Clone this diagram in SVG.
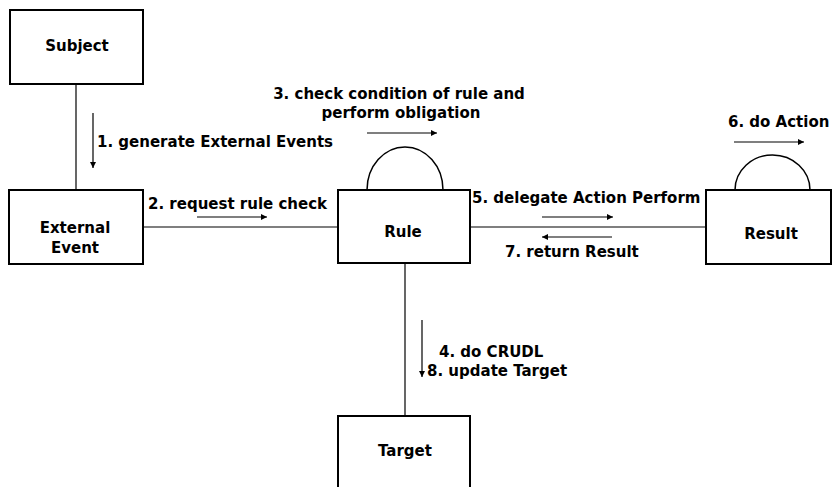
<svg xmlns="http://www.w3.org/2000/svg" width="832" height="487" viewBox="0 0 832 487">
  <style>
    .box { fill: #ffffff; stroke: #000000; stroke-width: 2; }
    .link { fill: none; stroke: #000000; stroke-width: 1.2; }
    .loop { fill: none; stroke: #000000; stroke-width: 1.5; }
    .msg { fill: none; stroke: #000000; stroke-width: 1.2; }
    text { font-family: "DejaVu Sans", Verdana, sans-serif; font-weight: bold; font-size: 15px; fill: #000000; }
    .mid { text-anchor: middle; }
  </style>
  <defs>
    <marker id="head" viewBox="0 0 10 10" refX="10" refY="5" markerWidth="6" markerHeight="6" markerUnits="userSpaceOnUse" orient="auto">
      <path d="M0 0 L10 5 L0 10 Z" fill="#000000"/>
    </marker>
  </defs>
  <rect width="832" height="487" fill="#ffffff"/>

  <!-- links between objects -->
  <g id="connectors">
    <line class="link" x1="76" y1="84" x2="76" y2="190"/>
    <line class="link" x1="143" y1="227" x2="338" y2="227"/>
    <line class="link" x1="470" y1="227" x2="706" y2="227"/>
    <line class="link" x1="405" y1="263" x2="405" y2="416"/>
    <!-- self loops -->
    <path class="loop" d="M367 190 A38 43 0 0 1 443 190"/>
    <path class="loop" d="M735 190 A37.5 35 0 0 1 810 190"/>

    <!-- message arrows -->
    <line class="msg" x1="93" y1="113" x2="93" y2="168" marker-end="url(#head)"/>
    <text x="97" y="147">1. generate External Events</text>

    <line class="msg" x1="197" y1="217" x2="267" y2="217" marker-end="url(#head)"/>
    <text x="148" y="209">2. request rule check</text>

    <line class="msg" x1="367" y1="133" x2="437" y2="133" marker-end="url(#head)"/>
    <text class="mid" x="399" y="99">3. check condition of rule and</text>
    <text class="mid" x="401" y="118">perform obligation</text>

    <line class="msg" x1="422" y1="320" x2="422" y2="377" marker-end="url(#head)"/>
    <text x="439" y="357">4. do CRUDL</text>
    <text x="427" y="376">8. update Target</text>

    <line class="msg" x1="542" y1="217" x2="613" y2="217" marker-end="url(#head)"/>
    <text x="472" y="203">5. delegate Action Perform</text>

    <line class="msg" x1="734" y1="142" x2="804" y2="142" marker-end="url(#head)"/>
    <text x="728" y="127">6. do Action</text>

    <line class="msg" x1="612" y1="237" x2="542" y2="237" marker-end="url(#head)"/>
    <text x="505" y="257">7. return Result</text>
  </g>

  <g id="subject">
    <rect class="box" x="10" y="10" width="133" height="74"/>
    <text class="mid" x="77" y="51">Subject</text>
  </g>

  <g id="external-event">
    <rect class="box" x="9" y="190" width="134" height="74"/>
    <text class="mid" x="75" y="233">External</text>
    <text class="mid" x="75" y="253">Event</text>
  </g>

  <g id="rule">
    <rect class="box" x="338" y="190" width="132" height="73"/>
    <text class="mid" x="403" y="237">Rule</text>
  </g>

  <g id="result">
    <rect class="box" x="706" y="190" width="125" height="74"/>
    <text class="mid" x="771" y="239">Result</text>
  </g>

  <g id="target">
    <rect class="box" x="338" y="416" width="132" height="80"/>
    <text class="mid" x="405" y="456">Target</text>
  </g>
</svg>
